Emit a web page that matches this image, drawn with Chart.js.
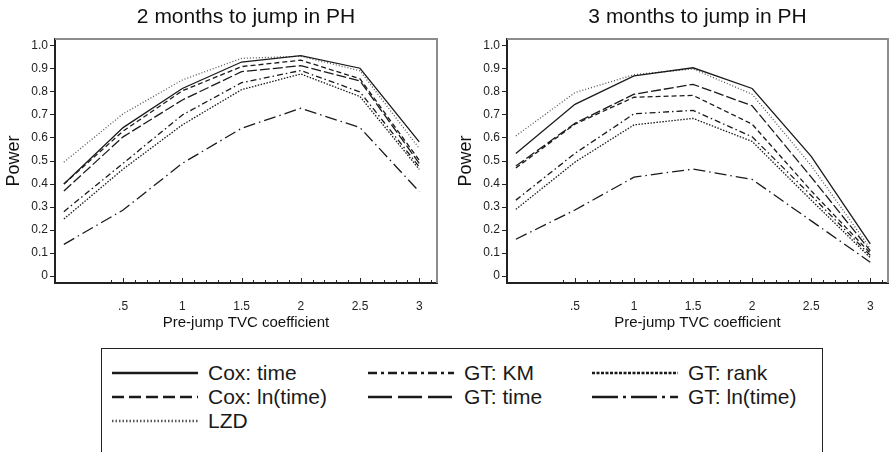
<!DOCTYPE html>
<html>
<head>
<meta charset="utf-8">
<script src="https://cdn.jsdelivr.net/npm/chart.js@4.4.0/dist/chart.umd.min.js"></script>
<style>
    body { margin: 0; background: #fff; width: 890px; height: 452px; overflow: hidden; position: relative; font-family: "Liberation Sans", Arial, sans-serif; }
    canvas { position: absolute; top: 0; }
    #legendBox { position: absolute; left: 101px; top: 348px; width: 720px; height: 130px; border: 1px solid #222; }
    .item { position: absolute; height: 24px; display: flex; align-items: center; font-size: 21px; color: #1a1a1a; white-space: nowrap; }
    .item svg { margin-right: 10px; }
</style>
</head>
<body>
<canvas id="chart2" width="445" height="345" style="left:0"></canvas>
<canvas id="chart3" width="445" height="345" style="left:445px"></canvas>
<div id="legendBox"></div>

<script>
// x values and tick labels
const xVals = [0, 0.5, 1, 1.5, 2, 2.5, 3];
const yTicks = [0, 0.1, 0.2, 0.3, 0.4, 0.5, 0.6, 0.7, 0.8, 0.9, 1.0];
const xLabelTicks = [0.5, 1, 1.5, 2, 2.5, 3];
const xMinorTicks = [0.4, 0.5, 0.6, 0.7, 0.8, 0.9, 1, 1.1, 1.2, 1.3, 1.4, 1.5, 1.6, 1.7, 1.8, 1.9, 2,
    2.1, 2.2, 2.3, 2.4, 2.5, 2.6, 2.7, 2.8, 2.9, 3, 3.1];

// 2 months to jump in PH
const coxTime2 = [0.40, 0.645, 0.815, 0.93, 0.958, 0.903, 0.583];
const coxLn2   = [0.40, 0.63, 0.805, 0.91, 0.938, 0.857, 0.503];
const lzd2     = [0.495, 0.705, 0.852, 0.946, 0.955, 0.892, 0.555];
const gtKm2    = [0.28, 0.49, 0.70, 0.84, 0.893, 0.80, 0.475];
const gtTime2  = [0.37, 0.605, 0.765, 0.888, 0.914, 0.848, 0.49];
const gtRank2  = [0.248, 0.465, 0.657, 0.81, 0.878, 0.78, 0.464];
const gtLn2    = [0.138, 0.287, 0.49, 0.642, 0.729, 0.645, 0.367];

// 3 months to jump in PH
const coxTime3 = [0.533, 0.746, 0.87, 0.905, 0.815, 0.52, 0.14];
const coxLn3   = [0.47, 0.66, 0.777, 0.785, 0.66, 0.37, 0.10];
const lzd3     = [0.609, 0.797, 0.875, 0.90, 0.79, 0.48, 0.12];
const gtKm3    = [0.33, 0.533, 0.705, 0.72, 0.605, 0.35, 0.09];
const gtTime3  = [0.478, 0.664, 0.79, 0.833, 0.74, 0.43, 0.11];
const gtRank3  = [0.29, 0.495, 0.657, 0.685, 0.585, 0.33, 0.08];
const gtLn3    = [0.16, 0.287, 0.43, 0.465, 0.42, 0.24, 0.06];

const seriesNames = ['Cox: time', 'Cox: ln(time)', 'LZD', 'GT: KM', 'GT: time', 'GT: rank', 'GT: ln(time)'];

// line styles: plot dash, legend dash
const styles = {
    'Cox: time':    { dash: [], legendDash: [], color: '#1a1a1a' },
    'Cox: ln(time)':{ dash: [5, 3], legendDash: [12, 5], color: '#1a1a1a' },
    'LZD':          { dash: [1, 2], legendDash: [1.5, 2], color: '#555' },
    'GT: KM':       { dash: [6, 3, 1.5, 3], legendDash: [9, 4, 3, 4], color: '#1a1a1a' },
    'GT: time':     { dash: [10, 3], legendDash: [24, 6], color: '#1a1a1a' },
    'GT: rank':     { dash: [1.5, 1.5], legendDash: [3, 1.5], color: '#1a1a1a' },
    'GT: ln(time)': { dash: [12, 4, 1.5, 4], legendDash: [26, 5, 3, 5], color: '#1a1a1a' }
};

Chart.defaults.font.family = '"Liberation Sans", Arial, sans-serif';
Chart.defaults.color = '#1a1a1a';

const frame = {
    id: 'frame',
    afterDraw(chart) {
        const { ctx, chartArea: a, scales: { x } } = chart;
        ctx.save();
        ctx.strokeStyle = '#8c8c8c';
        ctx.lineWidth = 2;
        ctx.beginPath();
        ctx.moveTo(a.left, a.top);
        ctx.lineTo(a.right, a.top);
        ctx.lineTo(a.right, a.bottom);
        ctx.stroke();
        // inward ticks on the x axis
        ctx.strokeStyle = '#222';
        ctx.lineWidth = 1;
        xMinorTicks.forEach(v => {
            const px = Math.round(x.getPixelForValue(v)) + 0.5;
            const major = Math.abs(v * 2 - Math.round(v * 2)) < 1e-6;
            ctx.beginPath();
            ctx.moveTo(px, a.bottom);
            ctx.lineTo(px, a.bottom - (major ? 5 : 3));
            ctx.stroke();
        });
        ctx.restore();
    }
};

function makeChart(id, title, values, yWidth, padRight, yTitlePad) {
    const datasets = seriesNames.map((name, i) => ({
        label: name,
        data: xVals.map((x, j) => ({ x: x, y: values[i][j] })),
        borderColor: styles[name].color,
        borderWidth: 1.3,
        borderDash: styles[name].dash,
        pointRadius: 0,
        tension: 0,
        fill: false
    }));

    return new Chart(document.getElementById(id), {
        type: 'line',
        data: { datasets: datasets },
        options: {
            responsive: false,
            animation: false,
            layout: { padding: { left: 0, right: padRight, top: 0, bottom: 0 } },
            plugins: {
                legend: { display: false },
                tooltip: { enabled: false },
                title: {
                    display: true,
                    text: title,
                    fullSize: false,
                    font: { size: 21, weight: 'normal' },
                    color: '#111',
                    padding: { top: 5, bottom: 8.8 }
                }
            },
            scales: {
                x: {
                    type: 'linear',
                    min: -0.075,
                    max: 3.15,
                    afterFit: s => { s.height = 62; },
                    afterBuildTicks: s => { s.ticks = xLabelTicks.map(v => ({ value: v })); },
                    grid: { display: false },
                    border: { display: true, color: '#222', width: 2 },
                    ticks: {
                        padding: 8,
                        font: { size: 12 },
                        color: '#222',
                        maxRotation: 0,
                        callback: v => (v === 0.5 ? '.5' : String(v))
                    },
                    title: {
                        display: true,
                        text: 'Pre-jump TVC coefficient',
                        font: { size: 15 },
                        color: '#111',
                        padding: { top: 0, bottom: 13 }
                    }
                },
                y: {
                    min: -0.03,
                    max: 1.03,
                    afterFit: s => { s.width = yWidth; },
                    afterBuildTicks: s => { s.ticks = yTicks.map(v => ({ value: v })); },
                    grid: { display: true, drawOnChartArea: false, drawTicks: true, tickLength: 5, color: '#222' },
                    border: { display: true, color: '#222', width: 2 },
                    ticks: {
                        padding: 2,
                        font: { size: 12 },
                        color: '#222',
                        callback: v => (v === 0 ? '0' : v.toFixed(1))
                    },
                    title: {
                        display: true,
                        text: 'Power',
                        font: { size: 18 },
                        color: '#111',
                        padding: { top: yTitlePad, bottom: 0 }
                    }
                }
            }
        },
        plugins: [frame]
    });
}

makeChart('chart2', '2 months to jump in PH',
    [coxTime2, coxLn2, lzd2, gtKm2, gtTime2, gtRank2, gtLn2], 55, 8, 3);
makeChart('chart3', '3 months to jump in PH',
    [coxTime3, coxLn3, lzd3, gtKm3, gtTime3, gtRank3, gtLn3], 62, 2, 10);

// legend (HTML, below both panels)
const legendCols = [112, 368, 592];
const legendRows = [373, 397, 421];
const legendLayout = [
    ['Cox: time', 0, 0], ['GT: KM', 1, 0], ['GT: rank', 2, 0],
    ['Cox: ln(time)', 0, 1], ['GT: time', 1, 1], ['GT: ln(time)', 2, 1],
    ['LZD', 0, 2]
];

legendLayout.forEach(([name, c, r]) => {
    const st = styles[name];
    const div = document.createElement('div');
    div.className = 'item';
    div.style.left = legendCols[c] + 'px';
    div.style.top = (legendRows[r] - 12) + 'px';
    const dash = st.legendDash.length ? st.legendDash.join(' ') : 'none';
    div.innerHTML = `<svg width="86" height="10"><line x1="0" y1="5" x2="86" y2="5" stroke="${st.color}"
        stroke-width="2.5" stroke-dasharray="${dash}"/></svg><span>${name}</span>`;
    document.body.appendChild(div);
});
</script>
</body>
</html>
